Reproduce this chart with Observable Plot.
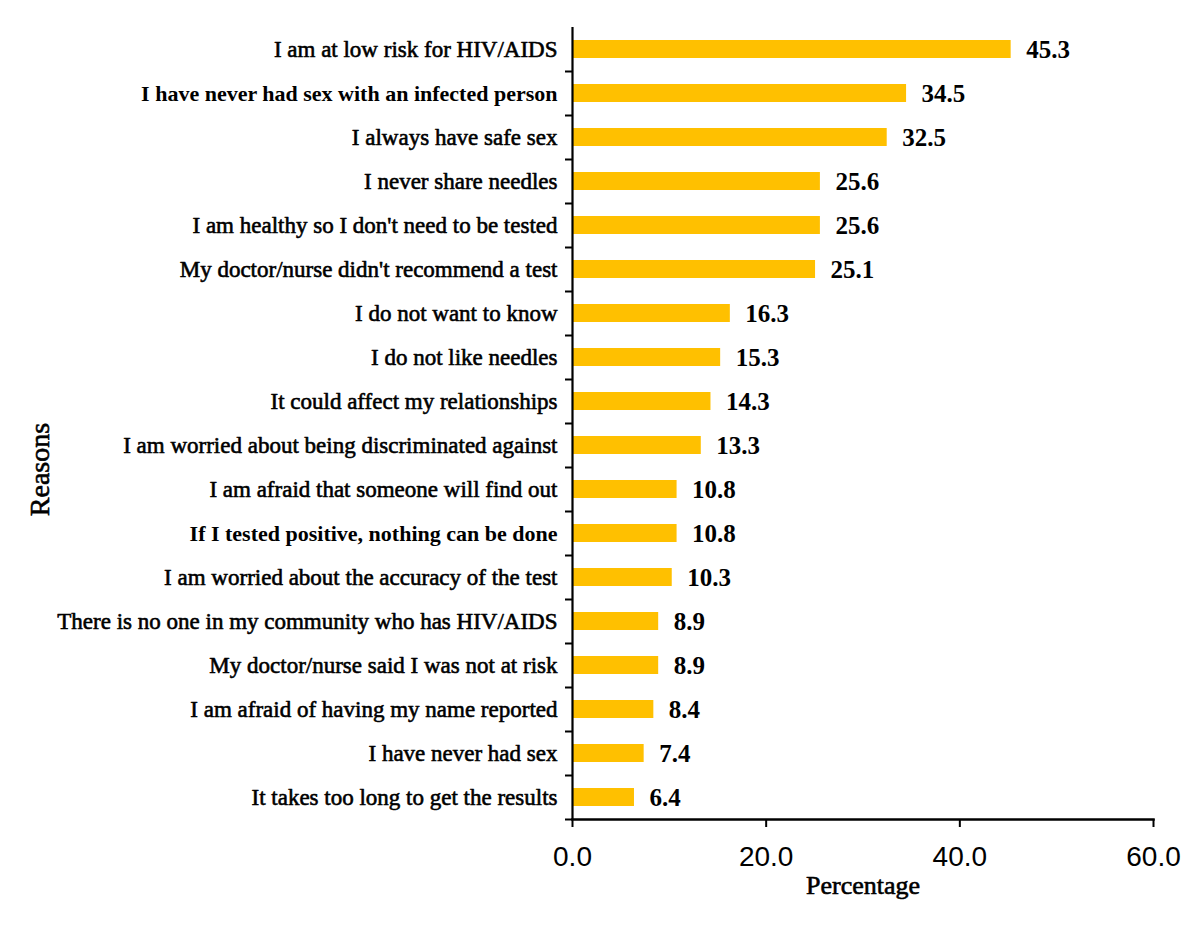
<!DOCTYPE html>
<html>
<head>
<meta charset="utf-8">
<script src="https://cdn.jsdelivr.net/npm/d3@7"></script>
<script src="https://cdn.jsdelivr.net/npm/@observablehq/plot@0.6"></script>
<style>
  html, body { margin: 0; padding: 0; background: #fff; }
</style>
</head>
<body>
<div id="chart"></div>
<script>
const reasons = [
  "I am at low risk for HIV/AIDS",
  "I have never had sex with an infected person",
  "I always have safe sex",
  "I never share needles",
  "I am healthy so I don't need to be tested",
  "My doctor/nurse didn't recommend a test",
  "I do not want to know",
  "I do not like needles",
  "It could affect my relationships",
  "I am worried about being discriminated against",
  "I am afraid that someone will find out",
  "If I tested positive, nothing can be done",
  "I am worried about the accuracy of the test",
  "There is no one in my community who has HIV/AIDS",
  "My doctor/nurse said I was not at risk",
  "I am afraid of having my name reported",
  "I have never had sex",
  "It takes too long to get the results"
];
const percentages = [45.3, 34.5, 32.5, 25.6, 25.6, 25.1, 16.3, 15.3, 14.3, 13.3, 10.8, 10.8, 10.3, 8.9, 8.9, 8.4, 7.4, 6.4];
const boldReasons = ["I have never had sex with an infected person", "If I tested positive, nothing can be done"];
const xTicks = [0, 20, 40, 60];
const xLabel = "Percentage";
const yLabel = "Reasons";

const data = reasons.map((r, i) => ({reason: r, value: percentages[i]}));
const serif = "'Liberation Serif', 'Times New Roman', serif";
const sans = "'Liberation Sans', Arial, sans-serif";

const chart = Plot.plot({
  width: 1200,
  height: 937,
  marginLeft: 572,
  marginRight: 47,
  marginTop: 27,
  marginBottom: 118,
  style: {background: "#fff", color: "#000"},
  x: {domain: [0, 60]},
  y: {domain: reasons, paddingInner: 0.58, paddingOuter: 0.29},
  marks: [
    Plot.barX(data, {x: "value", y: "reason", fill: "#FFC000"}),
    Plot.text(data, {x: "value", y: "reason", text: d => d.value.toFixed(1), textAnchor: "start", dx: 15, fontSize: 25, fontWeight: "bold", fontFamily: serif, fill: "#000"}),
    Plot.text(data.filter(d => !boldReasons.includes(d.reason)), {x: 0, y: "reason", text: "reason", textAnchor: "end", dx: -15, fontSize: 23, fontFamily: serif, fill: "#000", stroke: "#000", strokeWidth: 0.6}),
    Plot.text(data.filter(d => boldReasons.includes(d.reason)), {x: 0, y: "reason", text: "reason", textAnchor: "end", dx: -15, fontSize: 22, fontWeight: "bold", fontFamily: serif, fill: "#000"}),
    Plot.axisY({ticks: reasons, tickFormat: null, tickSize: 7, dy: 22, strokeWidth: 2, label: null}),
    Plot.ruleX([0], {stroke: "#000", strokeWidth: 2.2}),
    Plot.frame({anchor: "bottom", stroke: "#000", strokeWidth: 2.5}),
    Plot.axisX({ticks: xTicks, tickFormat: d => d.toFixed(1), tickSize: 8, tickPadding: 19, strokeWidth: 2, fontSize: 28, fontFamily: sans, label: null}),
    Plot.text([xLabel], {frameAnchor: "bottom", dy: 74, text: d => d, fontSize: 26, fontFamily: serif, fill: "#000", stroke: "#000", strokeWidth: 0.6}),
    Plot.text([yLabel], {x: () => 0, y: () => reasons[10], dx: -532, dy: -20, rotate: -90, text: d => d, fontSize: 28, fontFamily: serif, fill: "#000", stroke: "#000", strokeWidth: 0.6})
  ]
});
document.getElementById("chart").appendChild(chart);
</script>
</body>
</html>
